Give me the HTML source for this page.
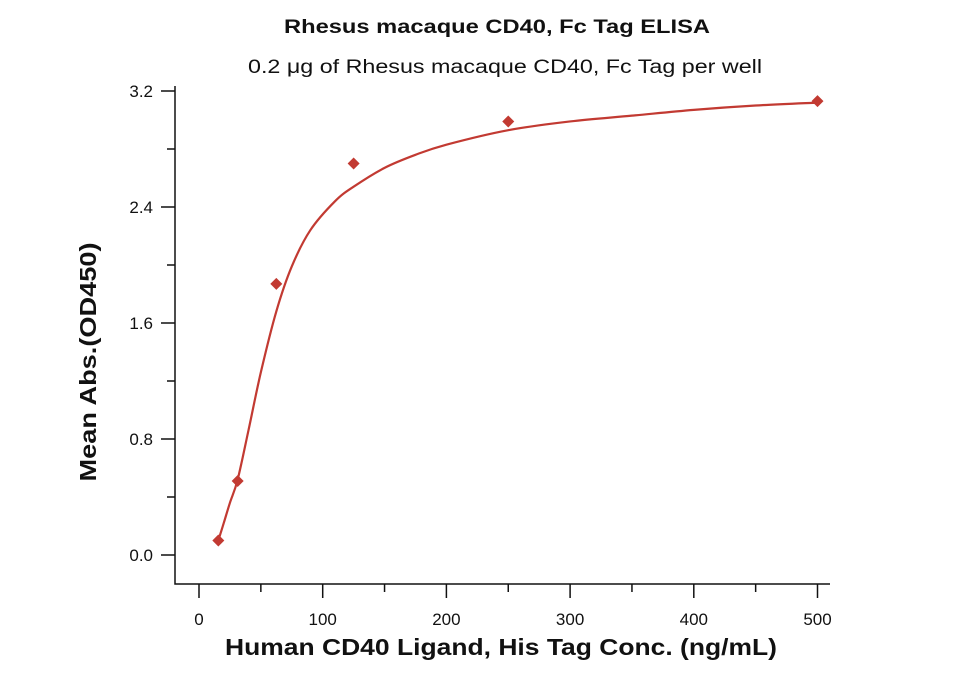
<!DOCTYPE html>
<html><head><meta charset="utf-8"><style>
body{margin:0;background:#fff;}
svg{display:block;font-family:"Liberation Sans",sans-serif;}
</style></head><body>
<svg id="chart" width="960" height="686">
<text x="497" y="33" text-anchor="middle" font-size="19" font-weight="bold" fill="#111" textLength="426" lengthAdjust="spacingAndGlyphs">Rhesus macaque CD40, Fc Tag ELISA</text>
<text x="505" y="73" text-anchor="middle" font-size="19" fill="#111" textLength="514" lengthAdjust="spacingAndGlyphs">0.2 μg of Rhesus macaque CD40, Fc Tag per well</text>
<text x="501" y="655" text-anchor="middle" font-size="23" font-weight="bold" fill="#111" textLength="552" lengthAdjust="spacingAndGlyphs">Human CD40 Ligand, His Tag Conc. (ng/mL)</text>
<text transform="translate(96,362) rotate(-90)" text-anchor="middle" font-size="23" font-weight="bold" fill="#111" textLength="239" lengthAdjust="spacingAndGlyphs">Mean Abs.(OD450)</text>
<g id="axes"></g>
<g id="marks"></g>
</svg>
<script>
const xTicks=[0,100,200,300,400,500];
const yTicks=[0.0,0.8,1.6,2.4,3.2];
const yTickLabels=["0.0","0.8","1.6","2.4","3.2"];
const concs=[15.625,31.25,62.5,125,250,500];
const absVals=[0.10,0.51,1.87,2.70,2.99,3.13];
const fitX=[15.6,20,25,31.25,40,50,62.5,75,90,110,125,150,175,200,250,300,350,400,450,500];
const fitY=[0.10,0.22,0.36,0.52,0.86,1.26,1.68,1.99,2.24,2.44,2.54,2.67,2.76,2.83,2.93,2.99,3.03,3.07,3.10,3.12];
const NS="http://www.w3.org/2000/svg";
const xs=v=>199+v*1.237;
const ys=v=>555-v*145;
const axes=document.getElementById('axes'),marks=document.getElementById('marks');
function mk(tag,attrs,parent){const e=document.createElementNS(NS,tag);for(const k in attrs)e.setAttribute(k,attrs[k]);parent.appendChild(e);return e;}
let l=mk('path',{d:'M175,86 V584 H830',fill:'none',stroke:'#111','stroke-width':1.5},axes);


yTicks.forEach((v,i)=>{
 const t=mk('line',{x1:161,x2:175,y1:ys(v),y2:ys(v),stroke:'#111','stroke-width':1.5},axes);
 
 
 const tx=mk('text',{x:153,y:ys(v)+6,'text-anchor':'end','font-size':17,fill:'#111'},axes);
 tx.textContent=yTickLabels[i];
 
 
 if(i<yTicks.length-1){
  const m=(v+yTicks[i+1])/2;
  const mt=mk('line',{x1:167,x2:175,y1:ys(m),y2:ys(m),stroke:'#111','stroke-width':1.5},axes);
  
  
 }
});
xTicks.forEach((v,i)=>{
 const t=mk('line',{x1:xs(v),x2:xs(v),y1:584,y2:598,stroke:'#111','stroke-width':1.5},axes);
 
 
 const tx=mk('text',{x:xs(v),y:625,'text-anchor':'middle','font-size':17,fill:'#111'},axes);
 tx.textContent=String(v);
 
 
 if(i<xTicks.length-1){
  const m=(v+xTicks[i+1])/2;
  const mt=mk('line',{x1:xs(m),x2:xs(m),y1:584,y2:592,stroke:'#111','stroke-width':1.5},axes);
  
  
 }
});
const P=fitX.map((x,i)=>[xs(x),ys(fitY[i])]);
let d='M'+P[0][0]+','+P[0][1];
for(let i=0;i<P.length-1;i++){
 const p0=P[Math.max(0,i-1)],p1=P[i],p2=P[i+1],p3=P[Math.min(P.length-1,i+2)];
 const c1=[p1[0]+(p2[0]-p0[0])/6,p1[1]+(p2[1]-p0[1])/6];
 const c2=[p2[0]-(p3[0]-p1[0])/6,p2[1]-(p3[1]-p1[1])/6];
 d+=` C${c1[0]},${c1[1]} ${c2[0]},${c2[1]} ${p2[0]},${p2[1]}`;
}
const c=mk('path',{d:d,fill:'none',stroke:'#c23a32','stroke-width':2.2},marks);


concs.forEach((x,i)=>{
 const cx=xs(x),cy=ys(absVals[i]);
 const p=mk('polygon',{points:`${cx},${cy-6} ${cx+6},${cy} ${cx},${cy+6} ${cx-6},${cy}`,fill:'#c23a32'},marks);
 
 
});
</script>
</body></html>
